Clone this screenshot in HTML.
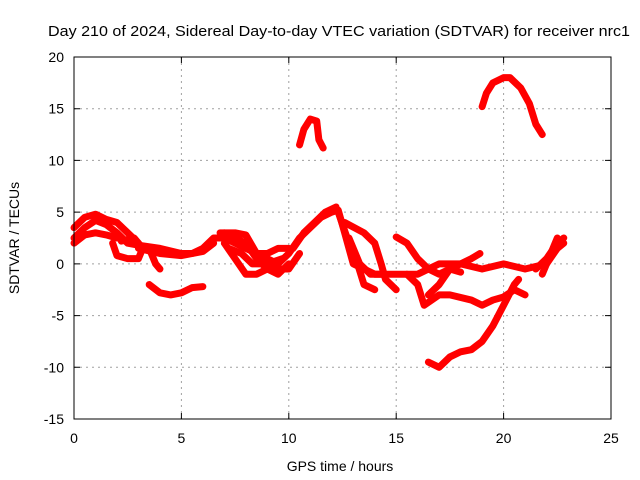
<!DOCTYPE html>
<html><head><meta charset="utf-8"><style>
html,body{margin:0;padding:0;background:#fff}
svg{display:block;font-family:"Liberation Sans",sans-serif}
</style></head><body>
<svg id="chart" width="640" height="480" viewBox="0 0 640 480">
<text x="48" y="36" font-size="15" textLength="582" lengthAdjust="spacingAndGlyphs">Day 210 of 2024, Sidereal Day-to-day VTEC variation (SDTVAR) for receiver nrc1</text>
<g id="grid"></g>
<g id="series"></g>
<rect x="74" y="57" width="537" height="362" fill="none" stroke="#000" stroke-width="1"/>
<g id="ticks"></g>
<text x="340" y="471" text-anchor="middle" font-size="14">GPS time / hours</text>
<text x="0" y="0" transform="translate(19,238) rotate(-90)" text-anchor="middle" font-size="14">SDTVAR / TECUs</text>
</svg>
<script>
const xTicks=[0,5,10,15,20,25];
const yTicks=[-15,-10,-5,0,5,10,15,20];
const traceA=[[0,2.5],[0.5,3.5],[1,4.2],[1.5,3.8],[2,3],[2.5,2],[3,1.8],[4,1.5],[5,1],[5.5,1],[6,1.5],[6.5,2.5],[7,2.5],[8,1.5],[9,0.5],[9.5,0],[10,1],[10.5,2.5],[11,3.5],[11.5,4.5],[12,5],[12.3,5.2],[12.6,3],[13,0],[13.5,-0.5],[14,-1],[15,-1],[16,-1],[17,0],[18,0],[19,-0.5],[20,0],[21,-0.5],[22,0],[22.5,1.5],[22.8,2]];
const traceA2=[[0,3.5],[0.5,4.5],[1,4.8],[1.5,4.3],[2,4],[2.5,3],[3,2]];
const traceA3=[[0,2],[0.5,2.8],[1,3],[1.5,2.8],[2,2.5]];
const traceA4=[[3,1.5],[4,1],[5,0.8],[6,1.2],[6.5,2]];
const traceA5=[[10.2,1.5],[10.7,3],[11.2,4],[11.7,5],[12.2,5.5]];
const traceB=[[1.8,2],[2,0.8],[2.5,0.5],[3,0.5],[3.2,1.5],[2.8,2.5],[2.2,2.2]];
const traceC=[[3.5,1.5],[3.8,0],[4,-0.5]];
const traceD=[[3.5,-2],[4,-2.8],[4.5,-3],[5,-2.8],[5.5,-2.3],[6,-2.2]];
const traceE1=[[7,3],[7.5,2.5],[8,2],[8.5,0.5],[9,-0.5],[9.5,-1],[10,0]];
const traceE2=[[7,2],[7.5,0.5],[8,-1],[8.5,-1],[9,-0.5],[10,-0.5],[10.5,1]];
const traceE3=[[6.8,3],[7.5,3],[8,2.8],[8.5,1],[9,1],[9.5,1.5],[10,1.5]];
const traceE4=[[7.2,1.5],[7.8,1],[8.3,0],[9,0],[9.7,0.5]];
const traceF1=[[12.3,5],[12.8,2],[13.2,0],[13.5,-2],[14,-2.5]];
const traceF2=[[12.6,4],[13.5,3],[14,2],[14.3,0],[14.5,-1.5],[15,-2.5]];
const traceF3=[[12.8,2.5],[13.3,0],[13.8,-1],[14.3,-1]];
const traceG=[[15,2.6],[15.5,2],[16,0.5],[16.5,-0.5],[17,-1],[17.5,-0.5],[18,-0.8]];
const traceH=[[15.5,-1],[16,-2],[16.3,-4],[17,-3],[17.5,-3],[18.5,-3.5],[19,-4],[19.5,-3.5],[20,-3.2],[20.5,-2.5],[21,-3]];
const traceH2=[[16.5,-3],[17,-2],[17.5,-0.5],[18,0],[18.5,0.5],[18.9,1]];
const traceI=[[16.5,-9.5],[17,-10],[17.5,-9],[18,-8.5],[18.5,-8.3],[19,-7.5],[19.5,-6],[20,-4],[20.5,-2],[20.7,-1.5]];
const traceJ1=[[21.5,-0.5],[22,0.5],[22.5,2],[22.8,2.5]];
const traceJ2=[[21.8,-1],[22.2,1],[22.5,2.5]];
const traceK=[[10.5,11.5],[10.7,13],[11,14],[11.3,13.8],[11.4,12],[11.6,11.2]];
const traceL=[[19,15.2],[19.2,16.5],[19.5,17.5],[20,18],[20.3,18],[20.8,17],[21.2,15.5],[21.5,13.5],[21.8,12.5]];
const traces=[traceA,traceA2,traceA3,traceA4,traceA5,traceB,traceC,traceD,traceE1,traceE2,traceE3,traceE4,traceF1,traceF2,traceF3,traceG,traceH,traceH2,traceI,traceJ1,traceJ2,traceK,traceL];

const NS="http://www.w3.org/2000/svg";
function xs(h){return 74+(h-0)/25*537;}
function ys(v){return 57+(20-v)/35*362;}
const grid=document.getElementById('grid'),ticks=document.getElementById('ticks'),ser=document.getElementById('series');
xTicks.forEach(t=>{
  const x=xs(t);
  if(t>0&&t<25){const g=document.createElementNS(NS,'line');
  
  
  g.setAttribute('x1',x);g.setAttribute('x2',x);g.setAttribute('y1',57);g.setAttribute('y2',419);
  g.setAttribute('stroke','#a0a0a0');g.setAttribute('stroke-dasharray','2,4');grid.appendChild(g);}
  const tk=document.createElementNS(NS,'path');
  
  
  tk.setAttribute('d',`M${x},419v-6M${x},57v6`);tk.setAttribute('stroke','#000');ticks.appendChild(tk);
  const l=document.createElementNS(NS,'text');
  
  
  l.setAttribute('x',x);l.setAttribute('y',443);l.setAttribute('text-anchor','middle');l.setAttribute('font-size','14');
  l.textContent=t;ticks.appendChild(l);
});
yTicks.forEach(t=>{
  const y=ys(t);
  if(t>-15&&t<20){const g=document.createElementNS(NS,'line');
  
  
  g.setAttribute('x1',74);g.setAttribute('x2',611);g.setAttribute('y1',y);g.setAttribute('y2',y);
  g.setAttribute('stroke','#a0a0a0');g.setAttribute('stroke-dasharray','2,4');grid.appendChild(g);}
  const tk=document.createElementNS(NS,'path');
  
  
  tk.setAttribute('d',`M74,${y}h6M611,${y}h-6`);tk.setAttribute('stroke','#000');ticks.appendChild(tk);
  const l=document.createElementNS(NS,'text');
  
  
  l.setAttribute('x',64);l.setAttribute('y',y+5);l.setAttribute('text-anchor','end');l.setAttribute('font-size','14');
  l.textContent=t;ticks.appendChild(l);
});
traces.forEach(tr=>{
  const p=document.createElementNS(NS,'polyline');
  
  
  p.setAttribute('points',tr.map(d=>xs(d[0])+','+ys(d[1])).join(' '));
  p.setAttribute('fill','none');p.setAttribute('stroke','#ff0000');p.setAttribute('stroke-width','7');
  p.setAttribute('stroke-linejoin','round');p.setAttribute('stroke-linecap','round');
  ser.appendChild(p);
});
</script>
</body></html>
